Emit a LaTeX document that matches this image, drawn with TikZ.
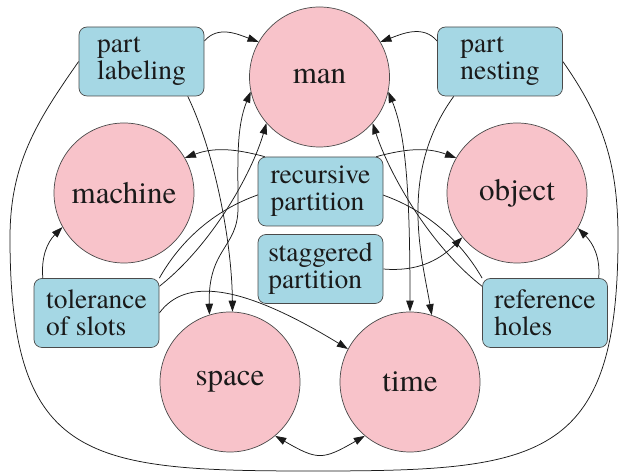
\documentclass[tikz,border=0pt]{standalone}
\usepackage{fontspec}
\setmainfont{texgyretermes-regular.otf}
\usetikzlibrary{arrows.meta,backgrounds}
\definecolor{Ink}{HTML}{1A1A1A}
\definecolor{Rim}{HTML}{4A4A4A}
\definecolor{Rose}{HTML}{F8C3CA}
\definecolor{Sky}{HTML}{A5D7E4}
\tikzset{
  concept/.style={
    circle, draw=Rim, line width=0.7pt, fill=Rose, text=Ink,
    minimum size=140pt, inner sep=0pt, font=\fontsize{31}{31}\selectfont
  },
  method/.style={
    rounded corners=8pt, draw=Rim, line width=0.7pt, fill=Sky, text=Ink,
    minimum width=125pt, minimum height=69pt, inner sep=0pt, align=left,
    font=\fontsize{27.5}{27}\selectfont
  },
  link/.style={-{Triangle[length=11pt,width=7.5pt]}, line width=0.75pt, draw=Ink},
  twoway/.style={{Triangle[length=11pt,width=7.5pt]}-{Triangle[length=11pt,width=7.5pt]}, line width=0.75pt, draw=Ink},
  bare/.style={line width=0.75pt, draw=Ink}
}
\begin{document}
\begin{tikzpicture}[x=1pt,y=1pt]
    \useasboundingbox (0,0) rectangle (626,473);
    \node[concept] (man) at (319.5,396) {man};
    \node[concept] (machine) at (124,280) {machine};
    \node[concept] (object) at (517,280) {object};
    \node[concept] (space) at (230,91) {space};
    \node[concept] (time) at (410,91) {time};
    \node[method] (labeling) at (141.5,411.5) {part\\labeling};
    \node[method] (nesting) at (500,411.5) {part\\nesting};
    \node[method] (recursive) at (320.5,281.5) {recursive\\partition};
    \node[method] (staggered) at (320.5,204) {staggered\\partition};
    \node[method] (tolerance) at (96.5,160) {tolerance\\of slots};
    \node[method] (holes) at (545,160) {reference\\holes};
    \begin{scope}[on background layer]
    \draw[link] (labeling.18) to[out=50,in=160] (man.150);
    \draw[link] (nesting.162) to[out=130,in=20] (man.30);
    \draw[link] (labeling.-37) .. controls (215,320) and (232,230) .. (space.88);
    \draw[link] (nesting.-143) .. controls (398,300) and (422,215) .. (time.72);
    \draw[twoway] (man.192) .. controls (236,345) and (238,310) .. (238,265)
      .. controls (238,225) and (208,225) .. (space.107);
    \draw[twoway] (man.-12) .. controls (405,340) and (410,290) .. (time.90);
    \draw[twoway] (space.-50) to[out=-30,in=-150,looseness=1.4] (time.-130);
    \draw[bare] (labeling.west) to[out=235,in=90] (10,235)
      to[out=-90,in=180,looseness=1.5] (313,2)
      to[out=0,in=-90,looseness=1.5] (618,235) to[out=90,in=-55] (nesting.east);
    \draw[link] (recursive.148) to[out=165,in=20] (machine.30);
    \draw[link] (recursive.32) to[out=15,in=160] (object.150);
    \draw[link] (staggered.east) to[out=-5,in=225] (object.219);
    \draw[link] (tolerance.147) to[out=95,in=225] (machine.209);
    \draw[link] (holes.33) to[out=85,in=-45] (object.-30);
    \draw[link] (tolerance.23) .. controls (212,228) and (252,300) .. (man.221);
    \draw[link] (holes.157) .. controls (429,228) and (389,300) .. (man.-41);
    \draw[link] (tolerance.east) .. controls (185,195) and (240,190) .. (time.152);
    \draw[bare] (tolerance.north east) .. controls (230,320) and (410,320) .. (holes.north west);
    \end{scope}
\end{tikzpicture}
\end{document}
